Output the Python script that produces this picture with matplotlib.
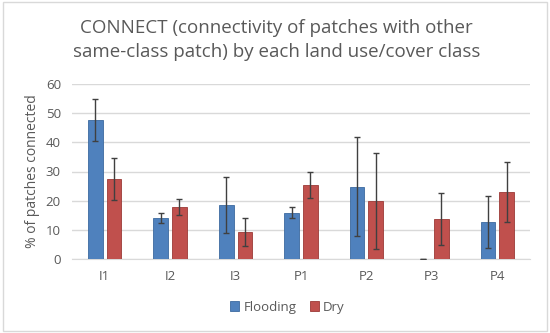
import numpy as np
import matplotlib.pyplot as plt

categories = ["I1", "I2", "I3", "P1", "P2", "P3", "P4"]
flooding = [47.5, 14.0, 18.4, 15.9, 24.8, 0.0, 12.7]
flooding_err = [7.2, 1.8, 9.6, 1.8, 17.0, 0.0, 8.8]
dry = [27.5, 17.9, 9.3, 25.4, 19.9, 13.8, 22.9]
dry_err = [7.3, 2.8, 4.7, 4.5, 16.3, 9.0, 10.3]

plt.rcParams["font.family"] = ["Open Sans", "DejaVu Sans"]
grey = "#595959"

fig = plt.figure(figsize=(5.5, 3.33), dpi=100)
ax = fig.add_axes([72 / 550, 1 - 259 / 333, 458 / 550, 175 / 333])

x = np.arange(len(categories))
w = 0.225
off = w / 2 + 0.03
err_kw = dict(ecolor="#404040", elinewidth=1, capsize=2.5, capthick=1)
ax.bar(x - off, flooding, w, yerr=flooding_err, color="#4F81BD",
       edgecolor="#3C6A9F", linewidth=0.6, error_kw=err_kw, label="Flooding", zorder=3)
ax.bar(x + off, dry, w, yerr=dry_err, color="#C0504D",
       edgecolor="#9C3A37", linewidth=0.6, error_kw=err_kw, label="Dry", zorder=3)

ax.set_xlim(-0.5, len(categories) - 0.5)
ax.set_ylim(0, 60)
ax.set_yticks(range(0, 61, 10))
ax.set_xticks(x)
ax.set_xticklabels(categories)
ax.yaxis.grid(True, color="#D9D9D9", linewidth=1, zorder=0)
ax.tick_params(length=0, colors=grey, labelsize=9.5, pad=8)
for s in ["top", "right", "left"]:
    ax.spines[s].set_visible(False)
ax.spines["bottom"].set_color("#D9D9D9")
ax.set_ylabel("% of patches connected", color=grey, fontsize=10, labelpad=4)

fig.text(0.503, 1 - 40 / 333, "CONNECT (connectivity of patches with other\nsame-class patch) by each land use/cover class",
         ha="center", va="center", fontsize=13.5, color=grey, linespacing=1.4)

ax.legend(loc="upper center", bbox_to_anchor=(0.47, -0.17), ncol=2, frameon=False,
          fontsize=9.5, labelcolor=grey, handlelength=0.7, handleheight=0.7,
          handletextpad=0.3, columnspacing=1.0)

fig.patches.append(plt.Rectangle((0.005, 0.005), 0.99, 0.99, transform=fig.transFigure,
                                 fill=False, edgecolor="#D9D9D9", linewidth=1))

fig.savefig("out.png", dpi=100)
